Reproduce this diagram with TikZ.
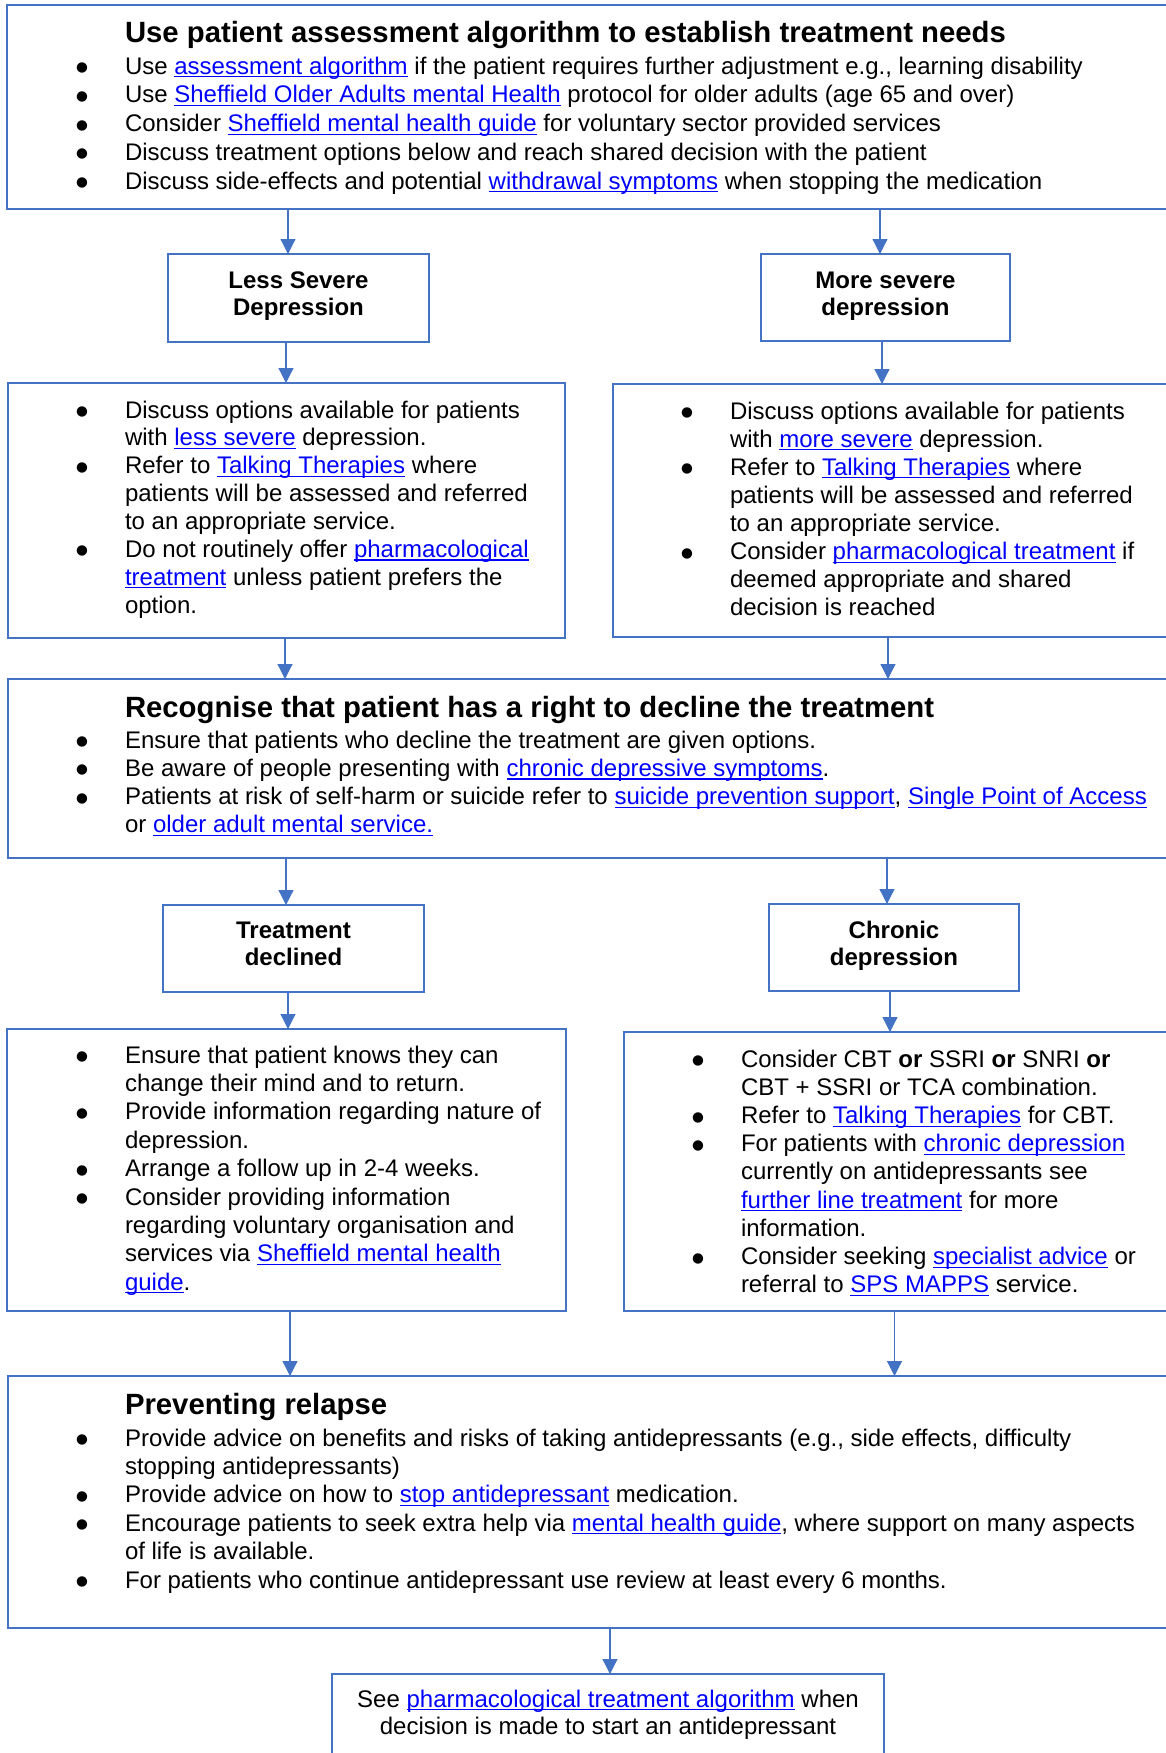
\documentclass[tikz,border=0pt]{standalone}
\usepackage{fontspec}
\setmainfont{Liberation Sans}
\newfontfamily\symfont{DejaVu Sans}
\usetikzlibrary{arrows.meta,fit,calc}

\definecolor{boxblue}{HTML}{4472C4}
\definecolor{lnkblue}{HTML}{0000FF}

% underlined blue link text
\newcommand\lnk[1]{\leavevmode{\color{lnkblue}\setbox0=\hbox{#1}\rlap{\rule[-1.6pt]{\wd0}{0.55pt}}\box0}}
% hanging bullet in front of a list item, its dot centred 3pt above the baseline
\newcommand\bul{\leavevmode\llap{\setbox2=\hbox{\symfont\fontsize{6.8}{6.8}\selectfont ●}%
  \raisebox{\dimexpr3pt-(\ht2-\dp2)/2\relax}{\makebox[6pt]{\copy2}}\hspace{18.5pt}}}
\newcommand\bodyfont[1]{\fontsize{12}{#1}\selectfont}
\newcommand\headfont{\fontsize{14.65}{17}\selectfont\bfseries}
\newcommand\labfont{\fontsize{12}{13.5}\selectfont\bfseries}

\begin{document}
\begin{tikzpicture}[x=0.5pt,y=-0.5pt,
  box/.style={draw=boxblue, line width=1pt, inner sep=0pt, outer sep=0pt, rectangle},
  txt/.style={anchor=base west, inner sep=0pt, outer sep=0pt},
  lab/.style={anchor=base, inner sep=0pt, outer sep=0pt},
  arr/.style={draw=boxblue, line width=0.6pt, -{Triangle[width=7.5pt,length=7.5pt]}}]
\useasboundingbox (0,0) rectangle (1166,1753);

% ---------- boxes ----------
\node[box, fit={(7,5) (1180,209)}] (top) {};
\node[box, fit={(168,254) (429,342)}] (less) {};
\node[box, fit={(761,254) (1010,341)}] (more) {};
\node[box, fit={(8,383) (565,638)}] (left1) {};
\node[box, fit={(613,384) (1180,637)}] (right1) {};
\node[box, fit={(8,679) (1180,858)}] (recog) {};
\node[box, fit={(163,905) (424,992)}] (treat) {};
\node[box, fit={(769,904) (1019,991)}] (chronic) {};
\node[box, fit={(7,1029) (566,1311)}] (left2) {};
\node[box, fit={(624,1032) (1180,1311)}] (right2) {};
\node[box, fit={(8,1376) (1180,1628)}] (prevent) {};
\node[box, fit={(332,1674) (884,1770)}] (bottom) {};

% ---------- assessment ----------
\node[txt] (h1) at (125,42) {\headfont Use patient assessment algorithm to establish treatment needs};
\node[txt] (t1) at (125,74) {\parbox[t]{560pt}{\bodyfont{14.375pt}%
\bul Use \lnk{assessment algorithm} if the patient requires further adjustment e.g., learning disability\par
\bul Use \lnk{Sheffield Older Adults mental Health} protocol for older adults (age 65 and over)\par
\bul Consider \lnk{Sheffield mental health guide} for voluntary sector provided services\par
\bul Discuss treatment options below and reach shared decision with the patient\par
\bul Discuss side-effects and potential \lnk{withdrawal symptoms} when stopping the medication}};

% ---------- severity ----------
\node[lab] (lessl) at (298.5,288) {\parbox[t]{130pt}{\centering\labfont Less Severe\\Depression}};
\node[lab] (morel) at (885.5,288) {\parbox[t]{130pt}{\centering\labfont More severe\\depression}};

\node[txt] (t2) at (125,418) {\parbox[t]{240pt}{\bodyfont{13.93pt}%
\bul Discuss options available for patients\\
with \lnk{less severe} depression.\par
\bul Refer to \lnk{Talking Therapies} where\\
patients will be assessed and referred\\
to an appropriate service.\par
\bul Do not routinely offer \lnk{pharmacological}\\
\lnk{treatment} unless patient prefers the\\
option.}};

\node[txt] (t3) at (730,419) {\parbox[t]{240pt}{\bodyfont{14.07pt}%
\bul Discuss options available for patients\\
with \lnk{more severe} depression.\par
\bul Refer to \lnk{Talking Therapies} where\\
patients will be assessed and referred\\
to an appropriate service.\par
\bul Consider \lnk{pharmacological treatment} if\\
deemed appropriate and shared\\
decision is reached}};

% ---------- right to decline ----------
\node[txt] (h2) at (125,717) {\headfont Recognise that patient has a right to decline the treatment};
\node[txt] (t4) at (125,748) {\parbox[t]{560pt}{\bodyfont{14.15pt}%
\bul Ensure that patients who decline the treatment are given options.\par
\bul Be aware of people presenting with \lnk{chronic depressive symptoms}.\par
\bul Patients at risk of self-harm or suicide refer to \lnk{suicide prevention support}, \lnk{Single Point of Access}\\
or \lnk{older adult mental service.}}};

\node[lab] (treatl) at (293.5,938) {\parbox[t]{130pt}{\centering\labfont Treatment\\declined}};
\node[lab] (chronl) at (894,938) {\parbox[t]{130pt}{\centering\labfont Chronic\\depression}};

\node[txt] (t5) at (125,1063) {\parbox[t]{240pt}{\bodyfont{14.2pt}%
\bul Ensure that patient knows they can\\
change their mind and to return.\par
\bul Provide information regarding nature of\\
depression.\par
\bul Arrange a follow up in 2-4 weeks.\par
\bul Consider providing information\\
regarding voluntary organisation and\\
services via \lnk{Sheffield mental health}\\
\lnk{guide}.}};

\node[txt] (t6) at (741,1067) {\parbox[t]{240pt}{\bodyfont{14.12pt}%
\bul Consider CBT \textbf{or} SSRI \textbf{or} SNRI \textbf{or}\\
CBT + SSRI or TCA combination.\par
\bul Refer to \lnk{Talking Therapies} for CBT.\par
\bul For patients with \lnk{chronic depression}\\
currently on antidepressants see\\
\lnk{further line treatment} for more\\
information.\par
\bul Consider seeking \lnk{specialist advice} or\\
referral to \lnk{SPS MAPPS} service.}};

% ---------- relapse ----------
\node[txt] (h3) at (125,1414) {\headfont Preventing relapse};
\node[txt] (t7) at (125,1446) {\parbox[t]{560pt}{\bodyfont{14.2pt}%
\bul Provide advice on benefits and risks of taking antidepressants (e.g., side effects, difficulty\\
stopping antidepressants)\par
\bul Provide advice on how to \lnk{stop antidepressant} medication.\par
\bul Encourage patients to seek extra help via \lnk{mental health guide}, where support on many aspects\\
of life is available.\par
\bul For patients who continue antidepressant use review at least every 6 months.}};

\node[lab] (t8) at (608,1707) {\parbox[t]{300pt}{\centering\bodyfont{13.5pt}%
See \lnk{pharmacological treatment algorithm} when\\
decision is made to start an antidepressant}};

% ---------- connectors ----------
\draw[arr] ($(top.south -| less.north)+(-10.5,0)$) -- ($(less.north)+(-10.5,0)$);
\draw[arr] ($(top.south -| more.north)+(-5.5,0)$) -- ($(more.north)+(-5.5,0)$);
\draw[arr] ($(less.south)+(-12.5,0)$) -- ($(left1.north -| less.south)+(-12.5,0)$);
\draw[arr] ($(more.south)+(-3.5,0)$) -- ($(right1.north -| more.south)+(-3.5,0)$);
\draw[arr] ($(left1.south)+(-1.5,0)$) -- ($(recog.north -| left1.south)+(-1.5,0)$);
\draw[arr] ($(right1.south)+(-8.5,0)$) -- ($(recog.north -| right1.south)+(-8.5,0)$);
\draw[arr] ($(recog.south -| treat.north)+(-7.5,0)$) -- ($(treat.north)+(-7.5,0)$);
\draw[arr] ($(recog.south -| chronic.north)+(-7,0)$) -- ($(chronic.north)+(-7,0)$);
\draw[arr] ($(treat.south)+(-5.5,0)$) -- ($(left2.north -| treat.south)+(-5.5,0)$);
\draw[arr] ($(chronic.south)+(-4,0)$) -- ($(right2.north -| chronic.south)+(-4,0)$);
\draw[arr] ($(left2.south)+(3.5,0)$) -- ($(prevent.north -| left2.south)+(3.5,0)$);
\draw[arr] ($(right2.south)+(-7.5,0)$) -- ($(prevent.north -| right2.south)+(-7.5,0)$);
\draw[arr] ($(prevent.south -| bottom.north)+(2,0)$) -- ($(bottom.north)+(2,0)$);
\end{tikzpicture}
\end{document}
